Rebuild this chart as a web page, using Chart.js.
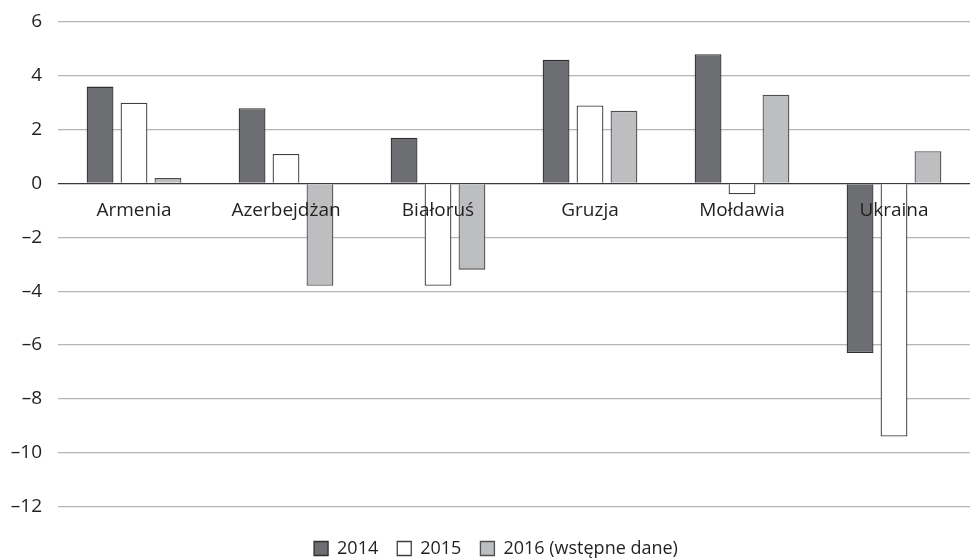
<!DOCTYPE html>
<html lang="pl">
<head>
<meta charset="utf-8">
<script src="https://cdn.jsdelivr.net/npm/chart.js@4"></script>
<style>
  html, body { margin: 0; padding: 0; background: #fff; }
  #wrap { width: 970px; height: 558px; }
</style>
</head>
<body>
<div id="wrap"><canvas id="c" width="970" height="558"></canvas></div>
<script>
// Categories and series (wzrost PKB, %)
const countries = ['Armenia', 'Azerbejdżan', 'Białoruś', 'Gruzja', 'Mołdawia', 'Ukraina'];
const seriesNames = ['2014', '2015', '2016 (wstępne dane)'];
const values2014 = [3.6, 2.8, 1.7, 4.6, 4.8, -6.3];
const values2015 = [3.0, 1.1, -3.8, 2.9, -0.4, -9.4];
const values2016 = [0.2, -3.8, -3.2, 2.7, 3.3, 1.2];
const yTicks = [6, 4, 2, 0, -2, -4, -6, -8, -10, -12];

const FONT = '"Open Sans", "DejaVu Sans", sans-serif';
const TEXT = '#231f20';
const FONT_SIZE = 19;

// Country names drawn just under the zero line, over the bars
const categoryLabels = {
  id: 'categoryLabels',
  afterDatasetsDraw(chart) {
    const { ctx, scales } = chart;
    const y0 = scales.y.getPixelForValue(0);
    ctx.save();
    ctx.font = FONT_SIZE + 'px ' + FONT;
    ctx.fillStyle = TEXT;
    ctx.textAlign = 'center';
    ctx.textBaseline = 'middle';
    countries.forEach((name, i) => {
      ctx.fillText(name, scales.x.getPixelForValue(i), y0 + 27);
    });
    ctx.restore();
  }
};

// Nudge the legend row down and slightly right
const legendOffset = {
  id: 'legendOffset',
  afterLayout(chart) {
    const lg = chart.legend;
    if (lg) {
      lg.top += 14; lg.bottom += 14;
      lg.left += 11; lg.right += 11;
    }
  }
};

new Chart(document.getElementById('c'), {
  type: 'bar',
  data: {
    labels: countries,
    datasets: [
      { label: seriesNames[0], data: values2014, backgroundColor: '#6d6e71', borderColor: '#2e2e30', borderWidth: 1.3 },
      { label: seriesNames[1], data: values2015, backgroundColor: '#ffffff', borderColor: '#3e3e40', borderWidth: 1.3 },
      { label: seriesNames[2], data: values2016, backgroundColor: '#bcbec0', borderColor: '#4e4f51', borderWidth: 1.3 }
    ]
  },
  options: {
    responsive: false,
    animation: false,
    layout: { padding: { top: 22, right: 0, bottom: 4.5, left: 0 } },
    datasets: { bar: { categoryPercentage: 0.67, barPercentage: 0.79 } },
    scales: {
      x: {
        display: false
      },
      y: {
        min: -12,
        max: 6,
        afterBuildTicks(axis) { axis.ticks = yTicks.map(v => ({ value: v })); },
        afterFit(axis) { axis.width = 58; axis.paddingTop = 0; axis.paddingBottom = 0; },
        border: { display: false },
        grid: {
          drawTicks: false,
          lineWidth: 1.3,
          color: ctx => (ctx.tick && ctx.tick.value === 0) ? '#3a3a3c' : '#b5b5b5'
        },
        ticks: {
          padding: 16,
          color: TEXT,
          font: { family: FONT, size: FONT_SIZE },
          callback: v => (v < 0 ? '\u2013' + Math.abs(v) : String(v))
        }
      }
    },
    plugins: {
      legend: {
        position: 'bottom',
        labels: {
          color: TEXT,
          font: { family: FONT, size: 18 },
          boxWidth: 14,
          boxHeight: 14,
          padding: 19
        }
      },
      tooltip: { enabled: false }
    }
  },
  plugins: [categoryLabels, legendOffset]
});
</script>
</body>
</html>
